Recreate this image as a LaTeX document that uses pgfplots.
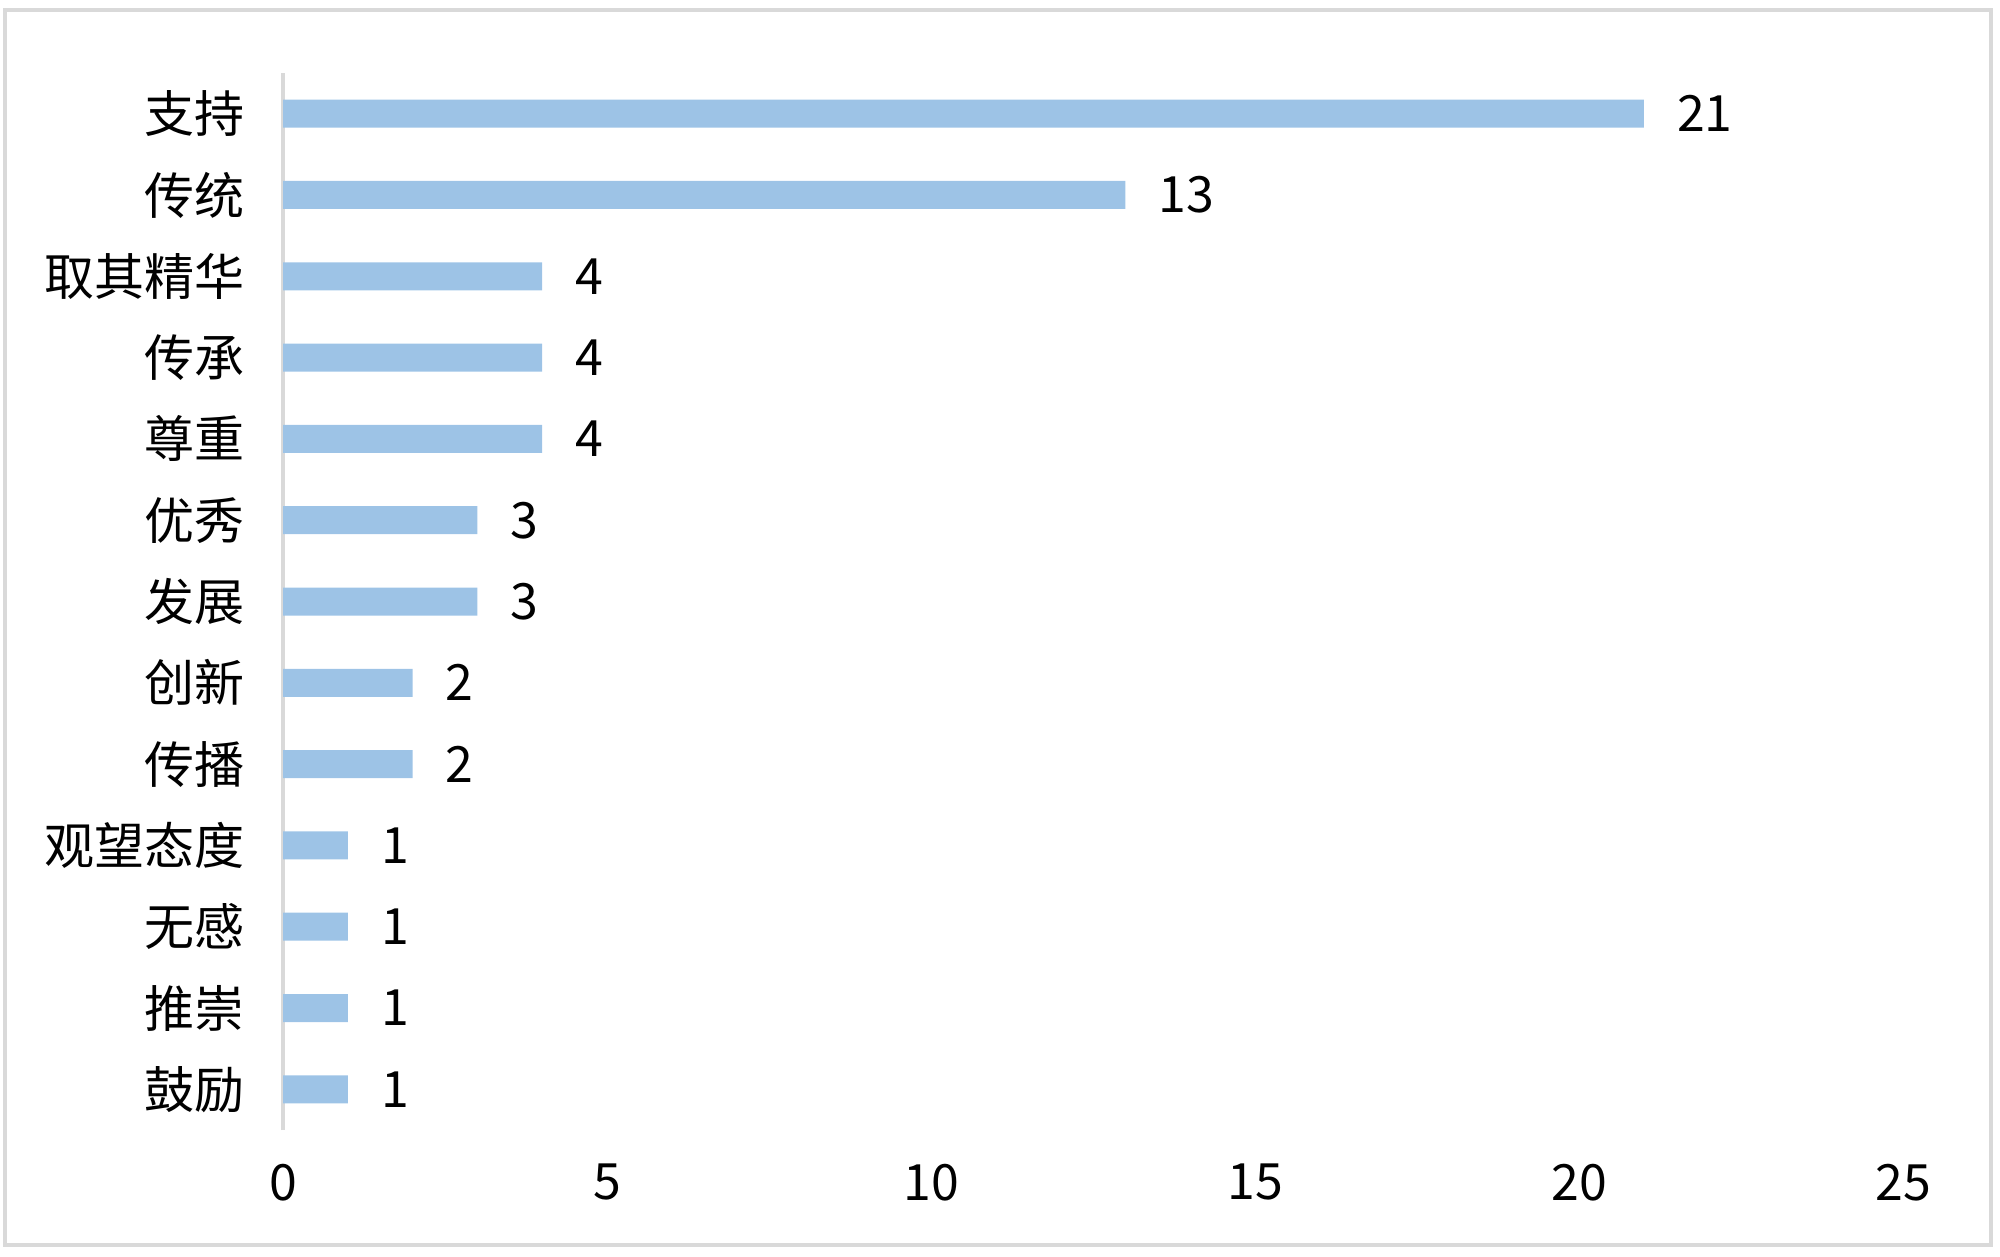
\documentclass[border=0pt]{standalone}
\usepackage{fontspec}
\setmainfont{Noto Sans CJK SC}
\usepackage{pgfplots}
\pgfplotsset{compat=1.18}
\definecolor{barBlue}{HTML}{9DC3E6}
\definecolor{frameGray}{HTML}{D9D9D9}

\begin{document}
\begin{tikzpicture}
\useasboundingbox (0,0) rectangle (500pt,314pt);
\draw[frameGray, line width=1pt] (1.2pt,2.8pt) rectangle (497.8pt,311.6pt);
\begin{axis}[
  at={(70.75pt,31.5pt)}, anchor=south west,
  scale only axis,
  width=405pt, height=264.25pt,
  xbar, bar width=7pt,
  xmin=0, xmax=25, ymin=-0.5, ymax=12.5,
  xtick={0,5,10,15,20,25},
  ytick={0,1,2,3,4,5,6,7,8,9,10,11,12},
  yticklabels={鼓励,推崇,无感,观望态度,传播,创新,发展,优秀,尊重,传承,取其精华,传统,支持},
  axis x line*=bottom,
  x axis line style={draw=none},
  axis y line*=left,
  y axis line style={draw=frameGray, line width=1pt, -},
  major tick length=0pt,
  font=\fontsize{12.5}{14}\selectfont,
  /pgf/number format/assume math mode=true,
  xticklabel style={yshift=-5pt},
  yticklabel style={xshift=-6pt},
  nodes near coords,
  nodes near coords style={xshift=4.8pt, font=\fontsize{12.5}{14}\selectfont},
  clip=false,
]
\addplot[fill=barBlue, draw=none] coordinates {
  (1,0) (1,1) (1,2) (1,3) (2,4) (2,5) (3,6) (3,7) (4,8) (4,9) (4,10) (13,11) (21,12)
};
\end{axis}
\end{tikzpicture}
\end{document}
